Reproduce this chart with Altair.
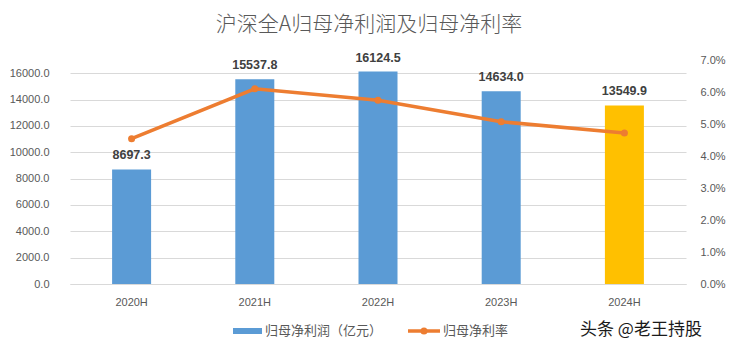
import altair as alt
import pandas as pd

periods = ["2020H", "2021H", "2022H", "2023H", "2024H"]
profit = [8697.3, 15537.8, 16124.5, 14634.0, 13549.9]
rate = [0.0454, 0.0610, 0.0574, 0.0507, 0.0472]
highlight = [False, False, False, False, True]
left_ticks = [0, 2000, 4000, 6000, 8000, 10000, 12000, 14000, 16000]
right_ticks = [0.0, 0.01, 0.02, 0.03, 0.04, 0.05, 0.06, 0.07]
title_text = "沪深全A归母净利润及归母净利率"
bar_legend = "归母净利润（亿元）"
line_legend = "归母净利率"
watermark = "头条 @老王持股"

df = pd.DataFrame({"period": periods, "profit": profit, "rate": rate, "hl": highlight})
one = pd.DataFrame({"k": [0]})

FONT = "Liberation Sans"
CJK = "Noto Sans CJK SC"
GRAY = "#595959"
BLUE = "#5B9BD5"
GOLD = "#FFC000"
ORANGE = "#ED7D31"

x = alt.X(
    "period:N", sort=periods,
    scale=alt.Scale(paddingInner=0, paddingOuter=0),
    axis=alt.Axis(title=None, labelAngle=0, ticks=False, domainColor="#D9D9D9",
                  labelPadding=12, labelFontSize=11, labelColor=GRAY, labelFont=FONT),
)
left_scale = alt.Scale(domain=[0, 17000], nice=False, zero=True)
right_scale = alt.Scale(domain=[0, 0.07], nice=False, zero=True)

bars = alt.Chart(df).mark_bar(size=39).encode(
    x=x,
    y=alt.Y("profit:Q", scale=left_scale,
            axis=alt.Axis(title=None, values=left_ticks, format=".1f", grid=True,
                          gridColor="#D9D9D9", domain=False, ticks=False, labelPadding=21,
                          labelFontSize=11, labelColor=GRAY, labelFont=FONT, orient="left")),
    color=alt.condition("datum.hl", alt.value(GOLD), alt.value(BLUE)),
)

labels = alt.Chart(df).mark_text(dy=-7, baseline="bottom", fontWeight="bold", fontSize=12.5,
                                 color="#404040", font=FONT).encode(
    x=x,
    y=alt.Y("profit:Q", scale=left_scale, axis=None),
    text=alt.Text("profit:Q", format=".1f"),
)

line = alt.Chart(df).mark_line(color=ORANGE, strokeWidth=3.5,
                               point=alt.OverlayMarkDef(size=50, filled=True, color=ORANGE)).encode(
    x=x,
    y=alt.Y("rate:Q", scale=right_scale,
            axis=alt.Axis(title=None, values=right_ticks, format=".1%", grid=False, domain=False,
                          ticks=False, labelPadding=14, labelFontSize=11, labelColor=GRAY,
                          labelFont=FONT, orient="right")),
)

title = alt.Chart(one).mark_text(fontSize=21, color=GRAY, font=CJK, fontWeight=300,
                                 align="center", baseline="middle").encode(
    x=alt.value(299), y=alt.value(-35), text=alt.value(title_text))

leg_rect = alt.Chart(one).mark_rect(color=BLUE).encode(
    x=alt.value(163), x2=alt.value(192), y=alt.value(268), y2=alt.value(274))
leg_text1 = alt.Chart(one).mark_text(fontSize=13, color=GRAY, font=CJK, align="left",
                                     baseline="middle").encode(
    x=alt.value(195), y=alt.value(271), text=alt.value(bar_legend))
leg_line = alt.Chart(one).mark_rule(color=ORANGE, strokeWidth=3.5).encode(
    x=alt.value(338), x2=alt.value(370), y=alt.value(271))
leg_dot = alt.Chart(one).mark_point(filled=True, size=50, color=ORANGE, opacity=1).encode(
    x=alt.value(354), y=alt.value(271))
leg_text2 = alt.Chart(one).mark_text(fontSize=13, color=GRAY, font=CJK, align="left",
                                     baseline="middle").encode(
    x=alt.value(373), y=alt.value(271), text=alt.value(line_legend))
mark_wm = alt.Chart(one).mark_text(fontSize=17, color="#1a1a1a", font=CJK, align="left",
                                   baseline="middle").encode(
    x=alt.value(510), y=alt.value(270), text=alt.value(watermark))

chart = alt.layer(
    bars, labels, line, title, leg_rect, leg_text1, leg_line, leg_dot, leg_text2, mark_wm
).resolve_scale(y="independent").properties(
    width=616, height=224,
    padding={"left": 62, "top": 52, "right": 44, "bottom": 64},
    autosize=alt.AutoSizeParams(type="none"),
    background="white",
).configure_view(stroke=None)

chart.save("out.html", embed_options={"renderer": "svg", "actions": False})
